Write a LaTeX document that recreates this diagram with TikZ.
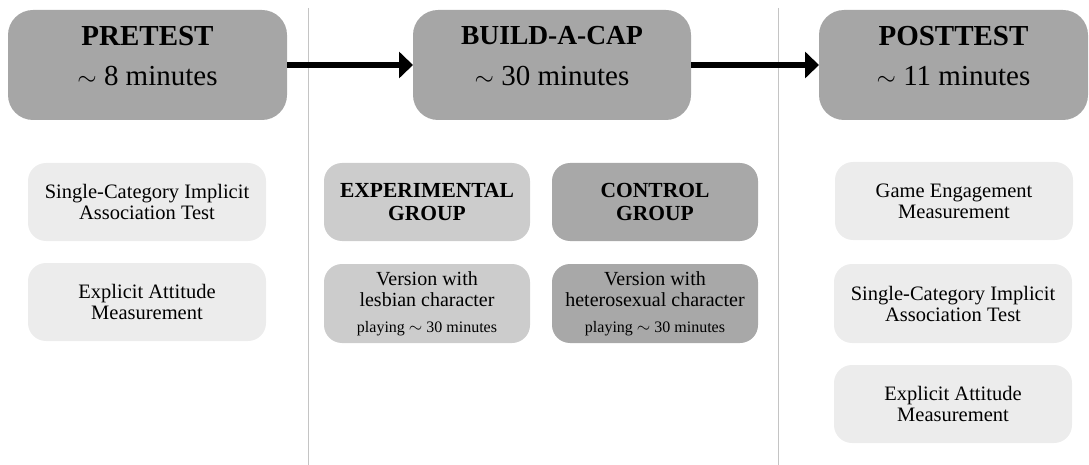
\documentclass[tikz,border=0pt]{standalone}
\usepackage{fontspec}
\setmainfont{Liberation Serif}
\usetikzlibrary{arrows.meta}
\definecolor{hdrgray}{HTML}{A6A6A6}
\definecolor{lightbox}{HTML}{ECECEC}
\definecolor{expgray}{HTML}{CCCCCC}
\definecolor{ctlgray}{HTML}{A8A8A8}
\definecolor{sepline}{HTML}{C4C4C4}
\newcommand{\apx}{$\sim$}
\begin{document}
\begin{tikzpicture}[x=1pt,y=-1pt,
  hdr/.style={rectangle, rounded corners=25pt, fill=hdrgray, minimum height=110pt,
    inner sep=0pt, outer sep=0pt, align=center,
    font=\fontsize{29}{40.5}\selectfont, text depth=18.5pt},
  infobox/.style={rectangle, rounded corners=18pt, fill=lightbox, minimum width=238pt,
    minimum height=78pt, inner sep=0pt, outer sep=0pt, align=center,
    font=\fontsize{20.5}{21}\selectfont},
  grpbox/.style={rectangle, rounded corners=18pt, minimum width=206pt,
    minimum height=78pt, inner sep=0pt, outer sep=0pt, align=center,
    font=\fontsize{21.5}{23}\selectfont\bfseries},
  verbox/.style={rectangle, rounded corners=18pt, minimum width=206pt,
    minimum height=79pt, inner sep=0pt, outer sep=0pt, align=center,
    font=\fontsize{20}{20.7}\selectfont},
  arr/.style={line width=6pt, -{Triangle[length=14pt,width=26pt]}},
  sep/.style={draw=sepline, line width=1pt}
]
\useasboundingbox (0,0) rectangle (1089,465);

% separators
\coordinate (s1t) at (308,8);
\coordinate (s1b) at (308,465);
\coordinate (s2t) at (778,8);
\coordinate (s2b) at (778,465);
\draw[sep] (s1t) -- (s1b);
\draw[sep] (s2t) -- (s2b);

% headers
\node[hdr, minimum width=279pt] (pre) at (147.5,65)
  {\textbf{PRETEST}\\\apx{} 8 minutes};
\node[hdr, minimum width=278pt] (build) at (552,65)
  {{\fontsize{27.5}{40.5}\selectfont\bfseries BUILD-A-CAP}\\\apx{} 30 minutes};
\node[hdr, minimum width=269pt] (post) at (953.5,65)
  {\textbf{POSTTEST}\\\apx{} 11 minutes};

\draw[arr] (pre) -- (build);
\draw[arr] (build) -- (post);

% pretest column
\node[infobox] (lsc) at (147,202) {Single-Category Implicit\\Association Test};
\node[infobox] (lea) at (147,302) {Explicit Attitude\\Measurement};

% build-a-cap column
\node[grpbox, fill=expgray] (exp) at (427,202) {EXPERIMENTAL\\GROUP};
\node[grpbox, fill=ctlgray] (ctl) at (655,202) {CONTROL\\GROUP};
\node[verbox, fill=expgray] (vles) at (427,303.5)
  {Version with\\lesbian character\\[5.3pt]{\fontsize{16}{16}\selectfont playing \apx{} 30 minutes}};
\node[verbox, fill=ctlgray] (vhet) at (655,303.5)
  {Version with\\heterosexual character\\[5.3pt]{\fontsize{16}{16}\selectfont playing \apx{} 30 minutes}};

% posttest column
\node[infobox] (rge) at (954,201) {Game Engagement\\Measurement};
\node[infobox, minimum height=79pt] (rsc) at (953,303.5) {Single-Category Implicit\\Association Test};
\node[infobox] (rea) at (953,404) {Explicit Attitude\\Measurement};
\end{tikzpicture}
\end{document}
